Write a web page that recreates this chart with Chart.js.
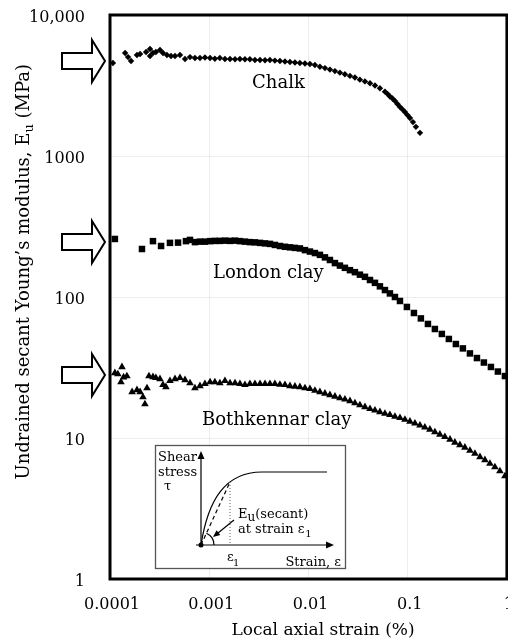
<!DOCTYPE html>
<html>
<head>
<meta charset="utf-8">
<script src="https://cdn.jsdelivr.net/npm/chart.js@4.4.1/dist/chart.umd.min.js"></script>
<style>
  html, body { margin: 0; padding: 0; background: #fff; overflow: hidden; }
  #wrap { width: 512px; height: 642px; position: relative; }
</style>
</head>
<body>
<div id="wrap"><canvas id="myChart"></canvas></div>
<script>
// local axial strain (%) and undrained secant modulus (MPa)
var chalkStrain = [0.000107, 0.000142, 0.000152, 0.000163, 0.000187, 0.000201, 0.000231, 0.000253, 0.000253, 0.000271,
    0.00029, 0.000319, 0.000342, 0.000375, 0.000412, 0.000452, 0.000507, 0.00057, 0.00064, 0.000718,
    0.000807, 0.000906, 0.00102, 0.00114, 0.00128, 0.00144, 0.00162, 0.00182, 0.00204, 0.00229,
    0.00257, 0.00289, 0.00325, 0.00365, 0.00409, 0.00459, 0.00516, 0.0058, 0.00651, 0.00731,
    0.0082, 0.00922, 0.01035, 0.01162, 0.01305, 0.01466, 0.01646, 0.01849, 0.02075, 0.0233,
    0.0262, 0.0294, 0.033, 0.0371, 0.0417, 0.0468, 0.0525, 0.059, 0.0625, 0.0662,
    0.0703, 0.0744, 0.0789, 0.0836, 0.0886, 0.0938, 0.0995, 0.1054, 0.113, 0.121, 0.133];
var chalkModulus = [4570, 5370, 5030, 4720, 5200, 5290, 5470, 5740, 5120, 5370,
    5470, 5650, 5370, 5200, 5120, 5120, 5200, 4880, 5030, 4950,
    4950, 5000, 4950, 4900, 4950, 4880, 4880, 4850, 4880, 4850,
    4850, 4800, 4800, 4780, 4800, 4750, 4720, 4680, 4640, 4600,
    4570, 4530, 4490, 4420, 4300, 4200, 4100, 4000, 3900, 3800,
    3700, 3600, 3480, 3380, 3280, 3160, 3020, 2860, 2760, 2640,
    2560, 2460, 2340, 2230, 2140, 2050, 1950, 1860, 1740, 1610, 1460];

var londonStrain = [0.000112, 0.00021, 0.000271, 0.000327, 0.000402, 0.000485, 0.000583, 0.00064, 0.000718, 0.000807,
    0.000906, 0.00102, 0.00114, 0.00128, 0.00144, 0.00162, 0.00182, 0.00204, 0.00229, 0.00257,
    0.00289, 0.00325, 0.00365, 0.00409, 0.00459, 0.00516, 0.0058, 0.00651, 0.00731, 0.0082,
    0.00922, 0.01035, 0.01162, 0.01305, 0.01466, 0.01646, 0.01849, 0.02075, 0.0233, 0.0262,
    0.0294, 0.033, 0.0371, 0.0417, 0.0468, 0.0525, 0.059, 0.0662, 0.0744, 0.0836,
    0.0982, 0.1156, 0.1358, 0.160, 0.188, 0.221, 0.260, 0.306, 0.360, 0.424,
    0.499, 0.586, 0.690, 0.811, 0.955];
var londonModulus = [258, 219, 249, 230, 242, 243, 249, 254, 245, 247,
    247, 249, 250, 250, 251, 250, 251, 249, 247, 245,
    244, 242, 240, 238, 234, 230, 227, 225, 223, 221,
    215, 210, 205, 199, 191, 183, 174, 167, 161, 155,
    150, 144, 139, 132, 126, 119, 112, 106, 100, 93.7,
    85, 77, 70.5, 64.4, 59.3, 54.7, 50.4, 46.4, 43.2, 39.8,
    36.9, 34.3, 31.9, 29.6, 27.5];

var bothkennarStrain = [0.000112, 0.00012, 0.000129, 0.000132, 0.000137, 0.000148, 0.000167, 0.000187, 0.000201, 0.000215,
    0.000225, 0.000236, 0.000247, 0.000271, 0.00029, 0.000319, 0.000342, 0.000366, 0.000402, 0.000452,
    0.000507, 0.00057, 0.00064, 0.000718, 0.000807, 0.000906, 0.00102, 0.00114, 0.00128, 0.00144,
    0.00162, 0.00182, 0.00204, 0.00229, 0.00257, 0.00289, 0.00325, 0.00365, 0.00409, 0.00459,
    0.00516, 0.0058, 0.00651, 0.00731, 0.0082, 0.00922, 0.01035, 0.01162, 0.01305, 0.01466,
    0.01646, 0.01849, 0.02075, 0.0233, 0.0262, 0.0294, 0.033, 0.0371, 0.0417, 0.0468,
    0.0525, 0.059, 0.0662, 0.0744, 0.0836, 0.0938, 0.1054, 0.1183, 0.133, 0.149,
    0.1675, 0.188, 0.211, 0.237, 0.267, 0.299, 0.336, 0.377, 0.424, 0.476,
    0.535, 0.6, 0.674, 0.757, 0.85, 0.955];
var bothkennarModulus = [28.9, 28.4, 24.9, 31.9, 27.0, 27.5, 21.2, 21.9, 21.2, 19.5,
    17.4, 22.6, 27.5, 27.1, 26.7, 26.2, 23.8, 23.0, 25.4, 26.2,
    26.7, 25.8, 24.5, 22.6, 23.4, 24.2, 24.9, 24.9, 24.5, 25.4,
    24.5, 24.5, 24.2, 23.8, 24.2, 24.2, 24.2, 24.2, 24.2, 24.2,
    23.9, 23.8, 23.4, 23.2, 23.0, 22.6, 22.3, 21.7, 21.2, 20.7,
    20.2, 19.7, 19.2, 18.8, 18.3, 17.7, 17.1, 16.6, 16.1, 15.7,
    15.3, 14.9, 14.6, 14.2, 13.9, 13.5, 13.1, 12.7, 12.3, 11.9,
    11.5, 11.0, 10.6, 10.2, 9.76, 9.29, 8.92, 8.56, 8.15, 7.76,
    7.33, 6.98, 6.59, 6.22, 5.83, 5.37];

var seriesNames = ['Chalk', 'London clay', 'Bothkennar clay'];
var xTicks = [0.0001, 0.001, 0.01, 0.1, 1];
var xTickLabels = ['0.0001', '0.001', '0.01', '0.1', '1'];
var yTicks = [1, 10, 100, 1000, 10000];
var yTickLabels = ['1', '10', '100', '1000', '10,000'];

function toPoints(xs, ys) {
    return xs.map(function (x, i) { return { x: x, y: ys[i] }; });
}

var FONT = '"DejaVu Serif", "Liberation Serif", serif';
Chart.defaults.font.family = FONT;
Chart.defaults.color = '#000';

// hollow block arrow on the left margin, pointing at the start of a curve
function blockArrow(ctx, cy) {
    ctx.save();
    ctx.beginPath();
    ctx.moveTo(62, cy - 8);
    ctx.lineTo(92, cy - 8);
    ctx.lineTo(92, cy - 21);
    ctx.lineTo(105, cy);
    ctx.lineTo(92, cy + 21);
    ctx.lineTo(92, cy + 8);
    ctx.lineTo(62, cy + 8);
    ctx.closePath();
    ctx.fillStyle = '#fff';
    ctx.fill();
    ctx.lineWidth = 2;
    ctx.strokeStyle = '#000';
    ctx.stroke();
    ctx.restore();
}

function head(ctx, x, y, ang, len, half) {
    ctx.save();
    ctx.translate(x, y);
    ctx.rotate(ang);
    ctx.beginPath();
    ctx.moveTo(0, 0);
    ctx.lineTo(-len, -half);
    ctx.lineTo(-len, half);
    ctx.closePath();
    ctx.fill();
    ctx.restore();
}

// small sketch of the secant modulus definition
function drawInset(ctx) {
    ctx.save();
    ctx.fillStyle = '#fff';
    ctx.fillRect(155, 445, 191, 124);
    ctx.strokeStyle = '#555';
    ctx.lineWidth = 1.3;
    ctx.strokeRect(155.5, 445.5, 190, 123);

    ctx.strokeStyle = '#000';
    ctx.fillStyle = '#000';
    ctx.lineWidth = 1.2;
    ctx.beginPath();
    ctx.moveTo(201, 547); ctx.lineTo(201, 458);
    ctx.moveTo(196, 545); ctx.lineTo(327, 545);
    ctx.stroke();
    head(ctx, 201, 451, -Math.PI / 2, 8, 3.5);
    head(ctx, 334, 545, 0, 8, 3.5);

    // stress-strain curve
    ctx.beginPath();
    ctx.moveTo(201, 545);
    ctx.bezierCurveTo(208, 500, 225, 472, 262, 472);
    ctx.lineTo(327, 472);
    ctx.stroke();

    // secant
    ctx.setLineDash([4, 3]);
    ctx.beginPath();
    ctx.moveTo(201, 545); ctx.lineTo(230, 482);
    ctx.stroke();
    ctx.setLineDash([1, 2]);
    ctx.strokeStyle = '#777';
    ctx.beginPath();
    ctx.moveTo(230, 482); ctx.lineTo(230, 545);
    ctx.stroke();
    ctx.setLineDash([]);
    ctx.strokeStyle = '#000';

    ctx.beginPath();
    ctx.arc(201, 545, 13, Math.atan2(-63, 29), 0, false);
    ctx.stroke();

    ctx.beginPath();
    ctx.moveTo(234, 520); ctx.lineTo(218, 533);
    ctx.stroke();
    head(ctx, 213, 537, Math.atan2(17, -21), 7, 3);

    ctx.beginPath();
    ctx.arc(201, 545, 2.5, 0, Math.PI * 2);
    ctx.fill();

    ctx.textBaseline = 'alphabetic';
    ctx.textAlign = 'left';
    ctx.font = '13px ' + FONT;
    ctx.fillText('Shear', 158, 461);
    ctx.fillText('stress', 158, 476);
    ctx.fillText('\u03C4', 164, 490);

    ctx.fillText('E', 238, 518);
    var wE = ctx.measureText('E').width;
    ctx.font = '12px ' + FONT;
    ctx.fillText('u', 238 + wE, 521);
    var wu = ctx.measureText('u').width;
    ctx.font = '13px ' + FONT;
    ctx.fillText('(secant)', 238 + wE + wu, 518);

    ctx.fillText('at strain \u03B5', 238, 533);
    var wa = ctx.measureText('at strain \u03B5').width;
    ctx.font = '10px ' + FONT;
    ctx.fillText('1', 238 + wa + 1, 537);

    ctx.font = '13px ' + FONT;
    ctx.fillText('\u03B5', 227, 561);
    ctx.font = '10px ' + FONT;
    ctx.fillText('1', 233, 566);

    ctx.font = '13px ' + FONT;
    ctx.textAlign = 'right';
    ctx.fillText('Strain, \u03B5', 341, 566);
    ctx.restore();
}

function drawYTitle(ctx) {
    var main = 'Undrained secant Young\u2019s modulus, E';
    var sub = 'u';
    var tail = ' (MPa)';
    ctx.save();
    ctx.font = '18px ' + FONT;
    var w1 = ctx.measureText(main).width;
    var w3 = ctx.measureText(tail).width;
    ctx.font = '13px ' + FONT;
    var w2 = ctx.measureText(sub).width;
    var total = w1 + w2 + w3;
    ctx.translate(29, 64 + total);
    ctx.rotate(-Math.PI / 2);
    ctx.fillStyle = '#000';
    ctx.textBaseline = 'alphabetic';
    ctx.textAlign = 'left';
    ctx.font = '18px ' + FONT;
    ctx.fillText(main, 0, 0);
    ctx.font = '13px ' + FONT;
    ctx.fillText(sub, w1, 4);
    ctx.font = '18px ' + FONT;
    ctx.fillText(tail, w1 + w2, 0);
    ctx.restore();
}

var decorations = {
    id: 'decorations',
    beforeDraw: function (chart) {
        var ctx = chart.ctx;
        ctx.save();
        ctx.fillStyle = '#fff';
        ctx.fillRect(0, 0, chart.width, chart.height);
        ctx.restore();
    },
    afterDatasetsDraw: function (chart) {
        var ctx = chart.ctx;
        var a = chart.chartArea;
        var xs = chart.scales.x, ys = chart.scales.y;

        drawInset(ctx);

        ctx.save();
        ctx.lineWidth = 3;
        ctx.strokeStyle = '#000';
        ctx.strokeRect(a.left, a.top, a.right - a.left, a.bottom - a.top);

        blockArrow(ctx, ys.getPixelForValue(chalkModulus[0]) - 2);
        blockArrow(ctx, ys.getPixelForValue(londonModulus[0]) + 3);
        blockArrow(ctx, ys.getPixelForValue(bothkennarModulus[0]) + 2);

        // curve names, anchored in data coordinates
        ctx.fillStyle = '#000';
        ctx.font = '18px ' + FONT;
        ctx.textAlign = 'left';
        ctx.textBaseline = 'alphabetic';
        ctx.fillText(seriesNames[0], xs.getPixelForValue(0.0027), ys.getPixelForValue(3035));
        ctx.fillText(seriesNames[1], xs.getPixelForValue(0.00109), ys.getPixelForValue(136));
        ctx.fillText(seriesNames[2], xs.getPixelForValue(0.000845), ys.getPixelForValue(12.4));

        ctx.font = '17px ' + FONT;
        ctx.textAlign = 'center';
        ctx.fillText('Local axial strain (%)', 323, 635);
        ctx.restore();

        drawYTitle(ctx);
    }
};

var myChart = new Chart(document.getElementById('myChart').getContext('2d'), {
    type: 'scatter',
    data: {
        datasets: [
            { label: seriesNames[0], data: toPoints(chalkStrain, chalkModulus), pointStyle: 'rectRot', pointRadius: 3.2, backgroundColor: '#000', borderWidth: 0 },
            { label: seriesNames[1], data: toPoints(londonStrain, londonModulus), pointStyle: 'rect', pointRadius: 4.6, backgroundColor: '#000', borderWidth: 0 },
            { label: seriesNames[2], data: toPoints(bothkennarStrain, bothkennarModulus), pointStyle: 'triangle', pointRadius: 4.4, backgroundColor: '#000', borderWidth: 0 }
        ]
    },
    options: {
        responsive: true,
        maintainAspectRatio: false,
        animation: false,
        layout: { padding: { top: 15, right: 0, left: 0, bottom: 0 } },
        plugins: { legend: { display: false }, tooltip: { enabled: false } },
        scales: {
            x: {
                type: 'logarithmic', min: 0.0001, max: 1,
                border: { display: false },
                grid: { color: 'rgba(0,0,0,0.07)', drawTicks: true, tickLength: 16, tickColor: 'rgba(0,0,0,0)' },
                afterBuildTicks: function (s) { s.ticks = xTicks.map(function (v) { return { value: v }; }); },
                afterFit: function (s) { s.height = 63; },
                ticks: {
                    padding: 0, maxRotation: 0, autoSkip: false, labelOffset: 2,
                    font: { size: 16 },
                    callback: function (v, i) { return xTickLabels[i]; }
                }
            },
            y: {
                type: 'logarithmic', min: 1, max: 10000,
                border: { display: false },
                grid: { color: 'rgba(0,0,0,0.07)', drawTicks: false },
                afterBuildTicks: function (s) { s.ticks = yTicks.map(function (v) { return { value: v }; }); },
                afterFit: function (s) { s.width = 110; s.paddingTop = 0; s.paddingBottom = 0; },
                ticks: {
                    padding: 25, autoSkip: false, labelOffset: 3,
                    font: { size: 16 },
                    callback: function (v, i) { return yTickLabels[i]; }
                }
            }
        }
    },
    plugins: [decorations]
});
</script>
</body>
</html>
